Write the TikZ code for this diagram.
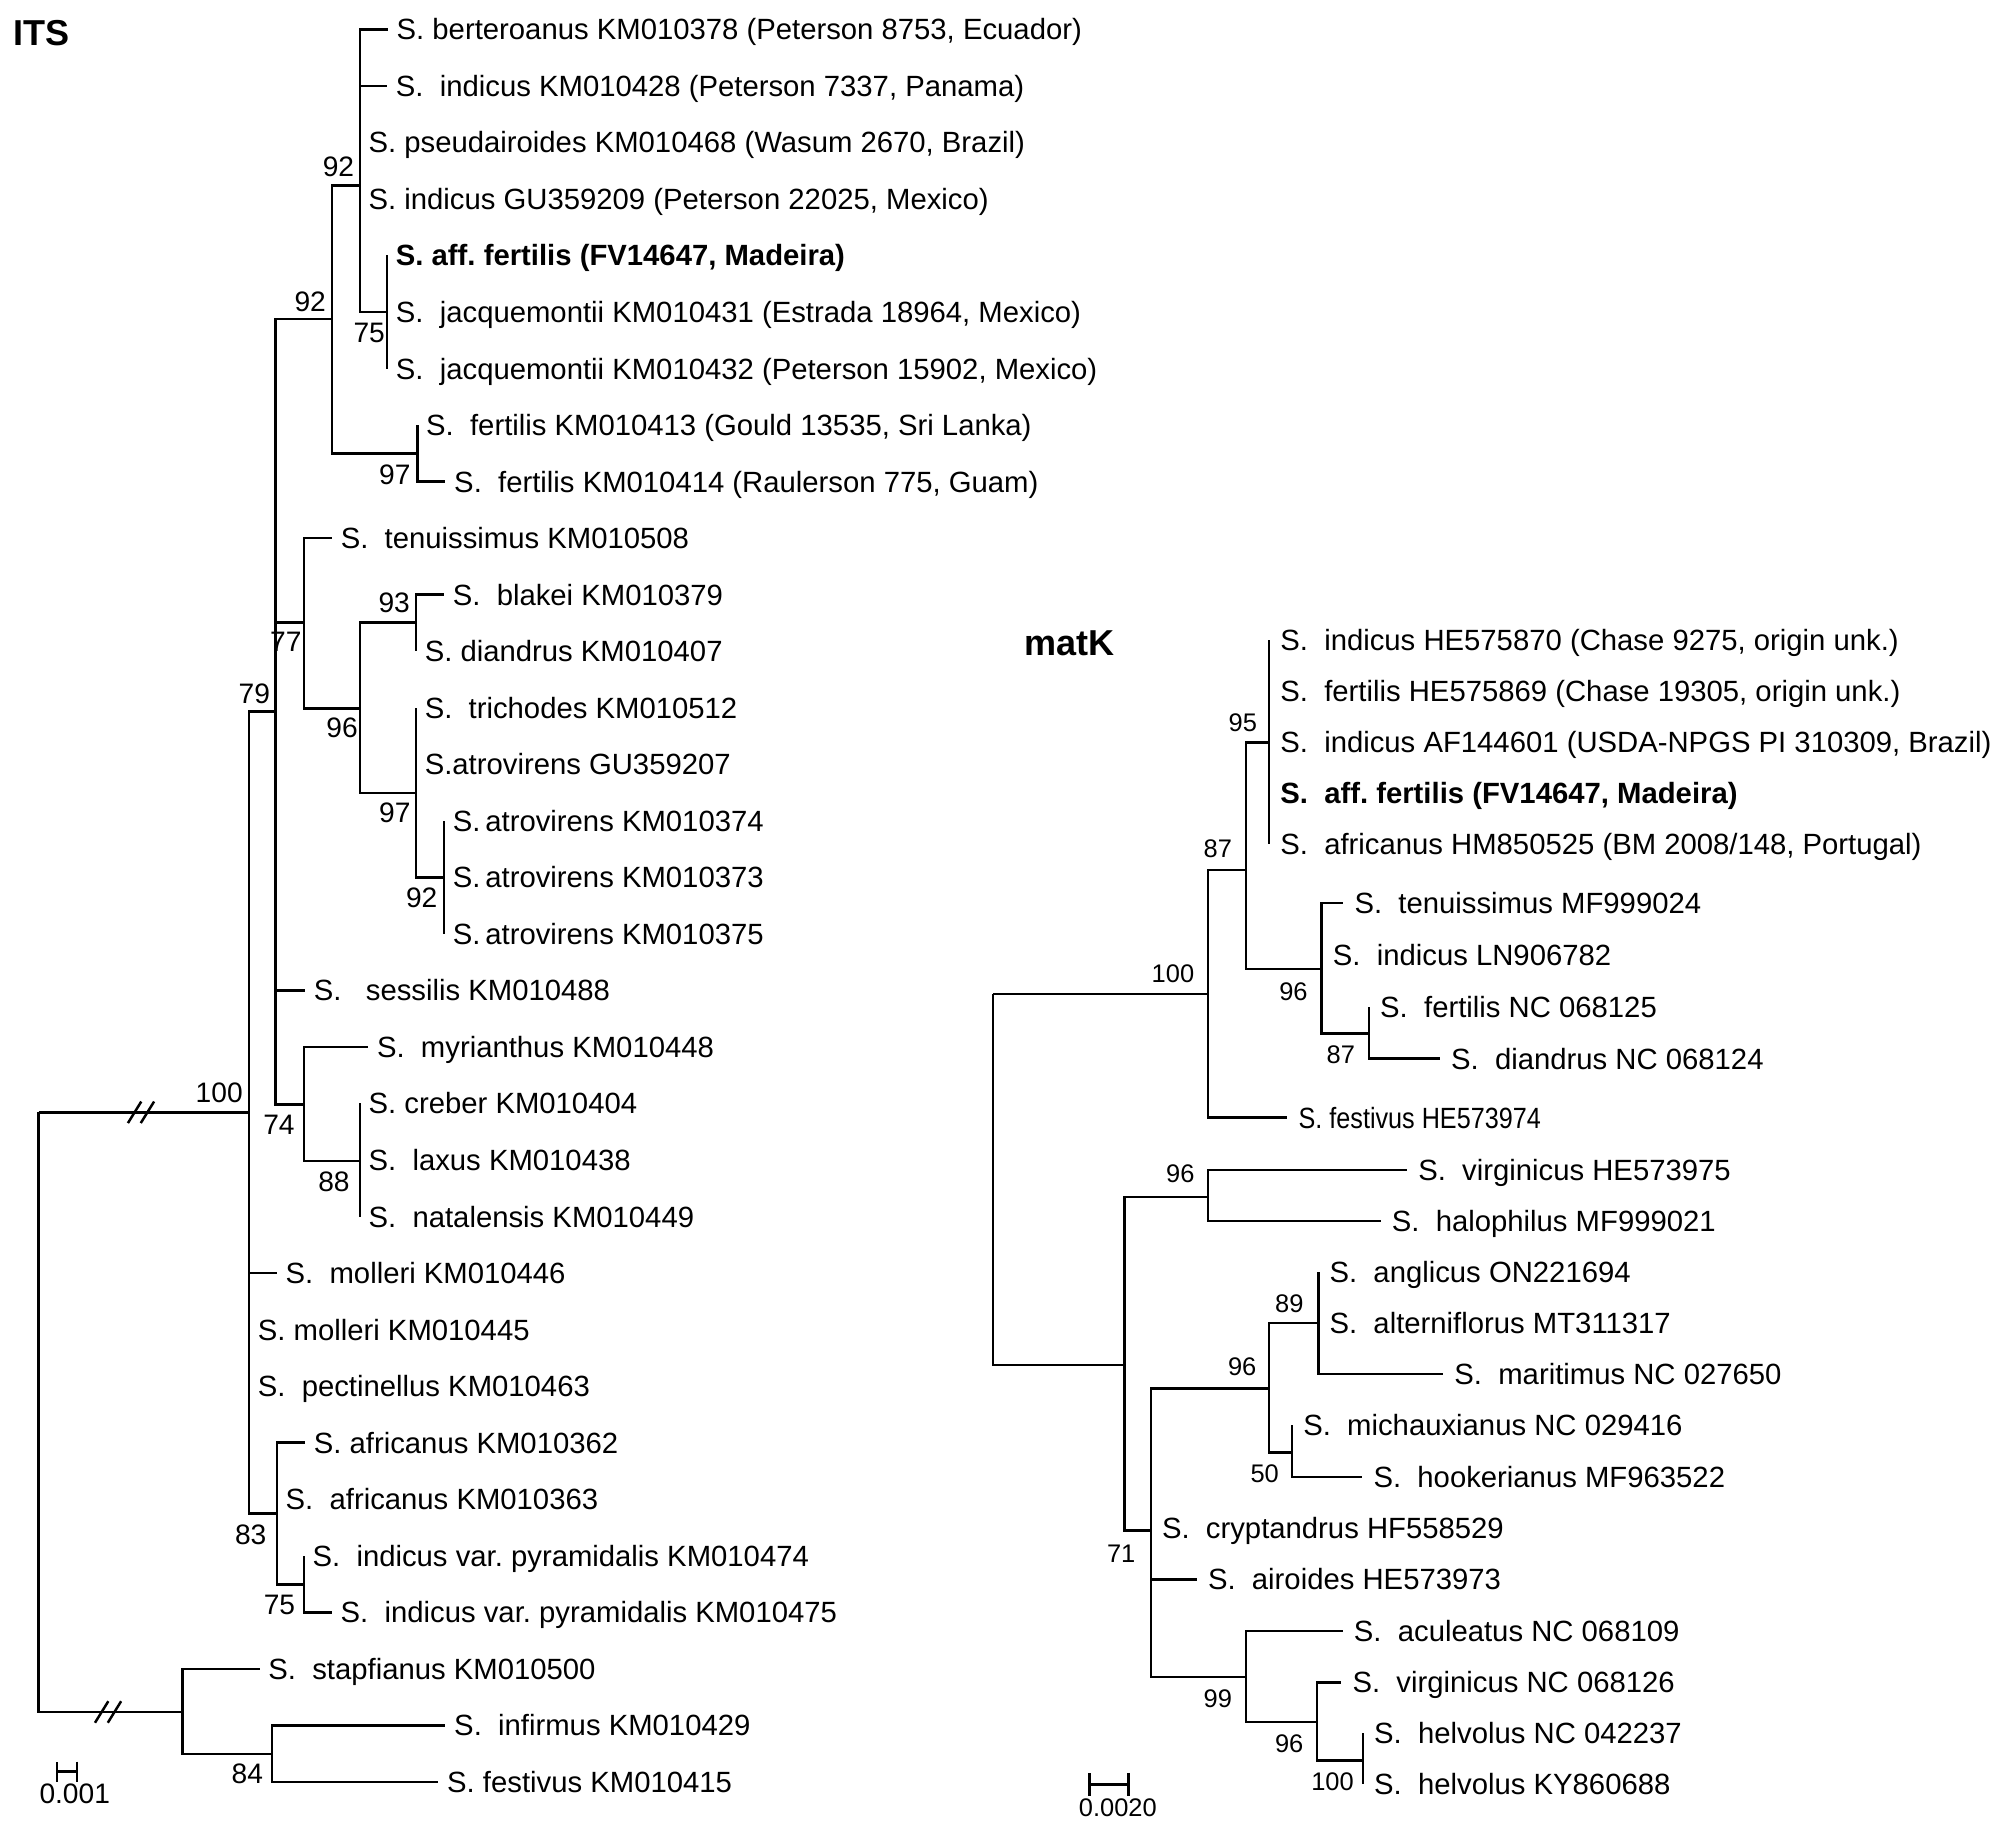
\documentclass[tikz,border=0pt]{standalone}
\usepackage{fontspec}
\setmainfont{Liberation Sans}
\newfontfamily\narrowfont{Liberation Sans}[FakeStretch=0.86]
\usetikzlibrary{arrows.meta}
\frenchspacing

\tikzset{
    branch/.style={line width=1.1pt},
    leafI/.style={anchor=west, inner xsep=3.7pt, inner ysep=0pt, text height=9.3pt, text depth=0pt, font=\fontsize{13}{15}\selectfont},
    leafM/.style={leafI, inner xsep=4.8pt},
    hl/.style={font=\fontsize{13}{15}\selectfont\bfseries},
    nar/.style={font=\fontsize{13}{15}\selectfont\narrowfont},
    supI/.style={inner sep=0pt, font=\fontsize{12.5}{14}\selectfont},
    supM/.style={inner sep=0pt, font=\fontsize{11.3}{13}\selectfont},
    treetitle/.style={anchor=west, inner sep=0pt, font=\fontsize{16}{18}\selectfont\bfseries},
    brk/.pic={\draw[branch] (-10.2,8.4) -- (0.2,-8.4) (-0.2,8.4) -- (10.2,-8.4);},
}

\begin{document}
\begin{tikzpicture}[x=0.02cm, y=-0.02cm]
    \useasboundingbox (0,0) rectangle (1568,1428);

    % ITS
    \node[treetitle] (titleI) at (10,26) {ITS};
    \node[leafI] (its1) at (302.6,22.9) {S. berteroanus KM010378 (Peterson 8753, Ecuador)};
    \node[leafI] (its2) at (302,67.0) {S.\ \ indicus KM010428 (Peterson 7337, Panama)};
    \node[leafI] (its3) at (280.7,111.1) {S. pseudairoides KM010468 (Wasum 2670, Brazil)};
    \node[leafI] (its4) at (280.7,155.2) {S. indicus GU359209 (Peterson 22025, Mexico)};
    \node[leafI, hl] (its5) at (302,199.3) {S. aff. fertilis (FV14647, Madeira)};
    \node[leafI] (its6) at (302,243.4) {S.\ \ jacquemontii KM010431 (Estrada 18964, Mexico)};
    \node[leafI] (its7) at (302,287.5) {S.\ \ jacquemontii KM010432 (Peterson 15902, Mexico)};
    \node[leafI] (its8) at (325.6,331.6) {S.\ \ fertilis KM010413 (Gould 13535, Sri Lanka)};
    \node[leafI] (its9) at (347.5,375.7) {S.\ \ fertilis KM010414 (Raulerson 775, Guam)};
    \node[leafI] (its10) at (259,419.8) {S.\ \ tenuissimus KM010508};
    \node[leafI] (its11) at (346.4,463.9) {S.\ \ blakei KM010379};
    \node[leafI] (its12) at (324.5,508.0) {S. diandrus KM010407};
    \node[leafI] (its13) at (324.5,552.1) {S.\ \ trichodes KM010512};
    \node[leafI] (its14) at (324.5,596.2) {S.atrovirens GU359207};
    \node[leafI] (its15) at (346.4,640.3) {S.\,atrovirens KM010374};
    \node[leafI] (its16) at (346.4,684.4) {S.\,atrovirens KM010373};
    \node[leafI] (its17) at (346.4,728.5) {S.\,atrovirens KM010375};
    \node[leafI] (its18) at (238,772.6) {S.\ \ \ sessilis KM010488};
    \node[leafI] (its19) at (287.3,816.7) {S.\ \ myrianthus KM010448};
    \node[leafI] (its20) at (280.7,860.8) {S. creber KM010404};
    \node[leafI] (its21) at (280.7,904.9) {S.\ \ laxus KM010438};
    \node[leafI] (its22) at (280.7,949.0) {S.\ \ natalensis KM010449};
    \node[leafI] (its23) at (216,993.1) {S.\ \ molleri KM010446};
    \node[leafI] (its24) at (194.3,1037.2) {S. molleri KM010445};
    \node[leafI] (its25) at (194.3,1081.3) {S.\ \ pectinellus KM010463};
    \node[leafI] (its26) at (238,1125.4) {S. africanus KM010362};
    \node[leafI] (its27) at (216,1169.5) {S.\ \ africanus KM010363};
    \node[leafI] (its28) at (237,1213.6) {S.\ \ indicus var. pyramidalis KM010474};
    \node[leafI] (its29) at (258.9,1257.7) {S.\ \ indicus var. pyramidalis KM010475};
    \node[leafI] (its30) at (202.5,1301.8) {S.\ \ stapfianus KM010500};
    \node[leafI] (its31) at (347.5,1345.9) {S.\ \ infirmus KM010429};
    \node[leafI] (its32) at (342,1390.0) {S. festivus KM010415};

    \coordinate (itsroot) at (30.1,867.7);
    \coordinate (its100) at (194.3,867.7);
    \coordinate (itsout) at (142.3,1335.5);
    \coordinate (its79) at (215,555);
    \coordinate (its92o) at (258.9,248.9);
    \coordinate (its92i) at (280.7,144.8);
    \coordinate (its75a) at (302,243.4);
    \coordinate (its97a) at (325.6,353.6);
    \coordinate (its77) at (237,485.7);
    \coordinate (its96) at (280.7,552.5);
    \coordinate (its93) at (324.5,485.7);
    \coordinate (its97b) at (324.5,618.4);
    \coordinate (its92c) at (346.4,684.4);
    \coordinate (its74) at (237,861.5);
    \coordinate (its88) at (280.7,905.7);
    \coordinate (its83) at (216,1180.5);
    \coordinate (its75b) at (237,1235.9);
    \coordinate (its84) at (212.3,1368.3);

    \foreach \c in {its100,itsout} \draw[branch] (itsroot) |- (\c);
    \foreach \c in {its79,its83} \draw[branch] (its100) |- (\c);
    \foreach \c in {its23,its24,its25} \draw[branch] (its100) |- (\c.west);
    \foreach \c in {its92o,its77,its74} \draw[branch] (its79) |- (\c);
    \draw[branch] (its79) |- (its18.west);
    \foreach \c in {its92i,its97a} \draw[branch] (its92o) |- (\c);
    \foreach \c in {its1,its2,its3,its4} \draw[branch] (its92i) |- (\c.west);
    \draw[branch] (its92i) |- (its75a);
    \foreach \c in {its5,its6,its7} \draw[branch] (its75a) |- (\c.west);
    \foreach \c in {its8,its9} \draw[branch] (its97a) |- (\c.west);
    \draw[branch] (its77) |- (its10.west);
    \draw[branch] (its77) |- (its96);
    \foreach \c in {its93,its97b} \draw[branch] (its96) |- (\c);
    \foreach \c in {its11,its12} \draw[branch] (its93) |- (\c.west);
    \foreach \c in {its13,its14} \draw[branch] (its97b) |- (\c.west);
    \draw[branch] (its97b) |- (its92c);
    \foreach \c in {its15,its16,its17} \draw[branch] (its92c) |- (\c.west);
    \draw[branch] (its74) |- (its19.west);
    \draw[branch] (its74) |- (its88);
    \foreach \c in {its20,its21,its22} \draw[branch] (its88) |- (\c.west);
    \foreach \c in {its26,its27} \draw[branch] (its83) |- (\c.west);
    \draw[branch] (its83) |- (its75b);
    \foreach \c in {its28,its29} \draw[branch] (its75b) |- (\c.west);
    \draw[branch] (itsout) |- (its30.west);
    \draw[branch] (itsout) |- (its84);
    \foreach \c in {its31,its32} \draw[branch] (its84) |- (\c.west);
    \pic at (110,867.7) {brk};
    \pic at (84.3,1335.5) {brk};

    \node[supI] (b92i) at (264,130) {92};
    \node[supI] (b92o) at (242,235.5) {92};
    \node[supI] (b75a) at (288,260) {75};
    \node[supI] (b97a) at (308,370) {97};
    \node[supI] (b77) at (223,501) {77};
    \node[supI] (b93) at (307.5,470.5) {93};
    \node[supI] (b96) at (266.8,568) {96};
    \node[supI] (b97b) at (308,634) {97};
    \node[supI] (b92c) at (329,700) {92};
    \node[supI] (b79) at (198.4,541) {79};
    \node[supI] (b100) at (171,852.8) {100};
    \node[supI] (b74) at (217.6,877.6) {74};
    \node[supI] (b88) at (260.5,922) {88};
    \node[supI] (b83) at (195.6,1197) {83};
    \node[supI] (b75b) at (218,1252) {75};
    \node[supI] (b84) at (193,1384) {84};

    \coordinate (sbI1) at (43.7,1382);
    \coordinate (sbI2) at (61.1,1382);
    \draw[branch, {Bar[width=0.31cm]}-{Bar[width=0.31cm]}] (sbI1) -- (sbI2);
    \node[supI] (sclI) at (58.3,1399) {0.001};

    % matK
    \node[treetitle] (titleM) at (799,501.7) {matK};
    \node[leafM] (mat1) at (990,499.3) {S.\ \ indicus HE575870 (Chase 9275, origin unk.)};
    \node[leafM] (mat2) at (990,538.8) {S.\ \ fertilis HE575869 (Chase 19305, origin unk.)};
    \node[leafM] (mat3) at (990,579.2) {S.\ \ indicus AF144601 (USDA-NPGS PI 310309, Brazil)};
    \node[leafM, hl] (mat4) at (990,619.0) {S.\ \ aff. fertilis (FV14647, Madeira)};
    \node[leafM] (mat5) at (990,658.6) {S.\ \ africanus HM850525 (BM 2008/148, Portugal)};
    \node[leafM] (mat6) at (1047.9,704.6) {S.\ \ tenuissimus MF999024};
    \node[leafM] (mat7) at (1031,745.0) {S.\ \ indicus LN906782};
    \node[leafM] (mat8) at (1067.9,785.4) {S.\ \ fertilis NC 068125};
    \node[leafM] (mat9) at (1123.2,825.8) {S.\ \ diandrus NC 068124};
    \node[leafM, nar] (mat10) at (1004.3,871.8) {S. festivus HE573974};
    \node[leafM] (mat11) at (1097.6,912.6) {S.\ \ virginicus HE573975};
    \node[leafM] (mat12) at (1077,952.3) {S.\ \ halophilus MF999021};
    \node[leafM] (mat13) at (1028.4,992.2) {S.\ \ anglicus ON221694};
    \node[leafM] (mat14) at (1028.4,1032.2) {S.\ \ alterniflorus MT311317};
    \node[leafM] (mat15) at (1125.8,1071.8) {S.\ \ maritimus NC 027650};
    \node[leafM] (mat16) at (1007.9,1111.8) {S.\ \ michauxianus NC 029416};
    \node[leafM] (mat17) at (1062.7,1152.1) {S.\ \ hookerianus MF963522};
    \node[leafM] (mat18) at (897.7,1192.1) {S.\ \ cryptandrus HF558529};
    \node[leafM] (mat19) at (933.6,1232.1) {S.\ \ airoides HE573973};
    \node[leafM] (mat20) at (1047.4,1272.4) {S.\ \ aculeatus NC 068109};
    \node[leafM] (mat21) at (1046.3,1312.4) {S.\ \ virginicus NC 068126};
    \node[leafM] (mat22) at (1063.2,1352.0) {S.\ \ helvolus NC 042237};
    \node[leafM] (mat23) at (1063.2,1392.0) {S.\ \ helvolus KY860688};

    \coordinate (matroot) at (774.7,775.6);
    \coordinate (mat100) at (942.3,775.6);
    \coordinate (mat87a) at (972,678.7);
    \coordinate (mat95) at (990,579.2);
    \coordinate (mat96a) at (1031,756.1);
    \coordinate (mat87b) at (1067.9,806.3);
    \coordinate (matlow) at (877.2,1064.8);
    \coordinate (mat96b) at (942.3,933.9);
    \coordinate (mat71) at (897.7,1194);
    \coordinate (mat96c) at (990,1083.1);
    \coordinate (mat89) at (1028.4,1032.2);
    \coordinate (mat50) at (1007.9,1133);
    \coordinate (mat99) at (972,1308.2);
    \coordinate (mat96d) at (1027.4,1343.2);
    \coordinate (mat100b) at (1063.2,1373.3);

    \foreach \c in {mat100,matlow} \draw[branch] (matroot) |- (\c);
    \draw[branch] (mat100) |- (mat87a);
    \draw[branch] (mat100) |- (mat10.west);
    \foreach \c in {mat95,mat96a} \draw[branch] (mat87a) |- (\c);
    \foreach \c in {mat1,mat2,mat3,mat4,mat5} \draw[branch] (mat95) |- (\c.west);
    \foreach \c in {mat6,mat7} \draw[branch] (mat96a) |- (\c.west);
    \draw[branch] (mat96a) |- (mat87b);
    \foreach \c in {mat8,mat9} \draw[branch] (mat87b) |- (\c.west);
    \foreach \c in {mat96b,mat71} \draw[branch] (matlow) |- (\c);
    \foreach \c in {mat11,mat12} \draw[branch] (mat96b) |- (\c.west);
    \foreach \c in {mat96c,mat99} \draw[branch] (mat71) |- (\c);
    \foreach \c in {mat18,mat19} \draw[branch] (mat71) |- (\c.west);
    \foreach \c in {mat89,mat50} \draw[branch] (mat96c) |- (\c);
    \foreach \c in {mat13,mat14,mat15} \draw[branch] (mat89) |- (\c.west);
    \foreach \c in {mat16,mat17} \draw[branch] (mat50) |- (\c.west);
    \draw[branch] (mat99) |- (mat20.west);
    \draw[branch] (mat99) |- (mat96d);
    \draw[branch] (mat96d) |- (mat21.west);
    \draw[branch] (mat96d) |- (mat100b);
    \foreach \c in {mat22,mat23} \draw[branch] (mat100b) |- (\c.west);

    \node[supM] (m95) at (969.5,564) {95};
    \node[supM] (m87a) at (950,662) {87};
    \node[supM] (m100) at (915,759.7) {100};
    \node[supM] (m96a) at (1009,773.6) {96};
    \node[supM] (m87b) at (1046,823) {87};
    \node[supM] (m96b) at (920.8,916) {96};
    \node[supM] (m89) at (1005.8,1017) {89};
    \node[supM] (m96c) at (969,1066.5) {96};
    \node[supM] (m50) at (986.6,1149.6) {50};
    \node[supM] (m71) at (874.6,1212.4) {71};
    \node[supM] (m99) at (950,1324.8) {99};
    \node[supM] (m96d) at (1005.7,1360) {96};
    \node[supM] (m100b) at (1039.5,1390) {100};

    \coordinate (sbM1) at (849,1392);
    \coordinate (sbM2) at (881.3,1392);
    \draw[branch, {Bar[width=0.36cm]}-{Bar[width=0.36cm]}] (sbM1) -- (sbM2);
    \node[supM] (sclM) at (872,1410) {0.0020};
\end{tikzpicture}
\end{document}
